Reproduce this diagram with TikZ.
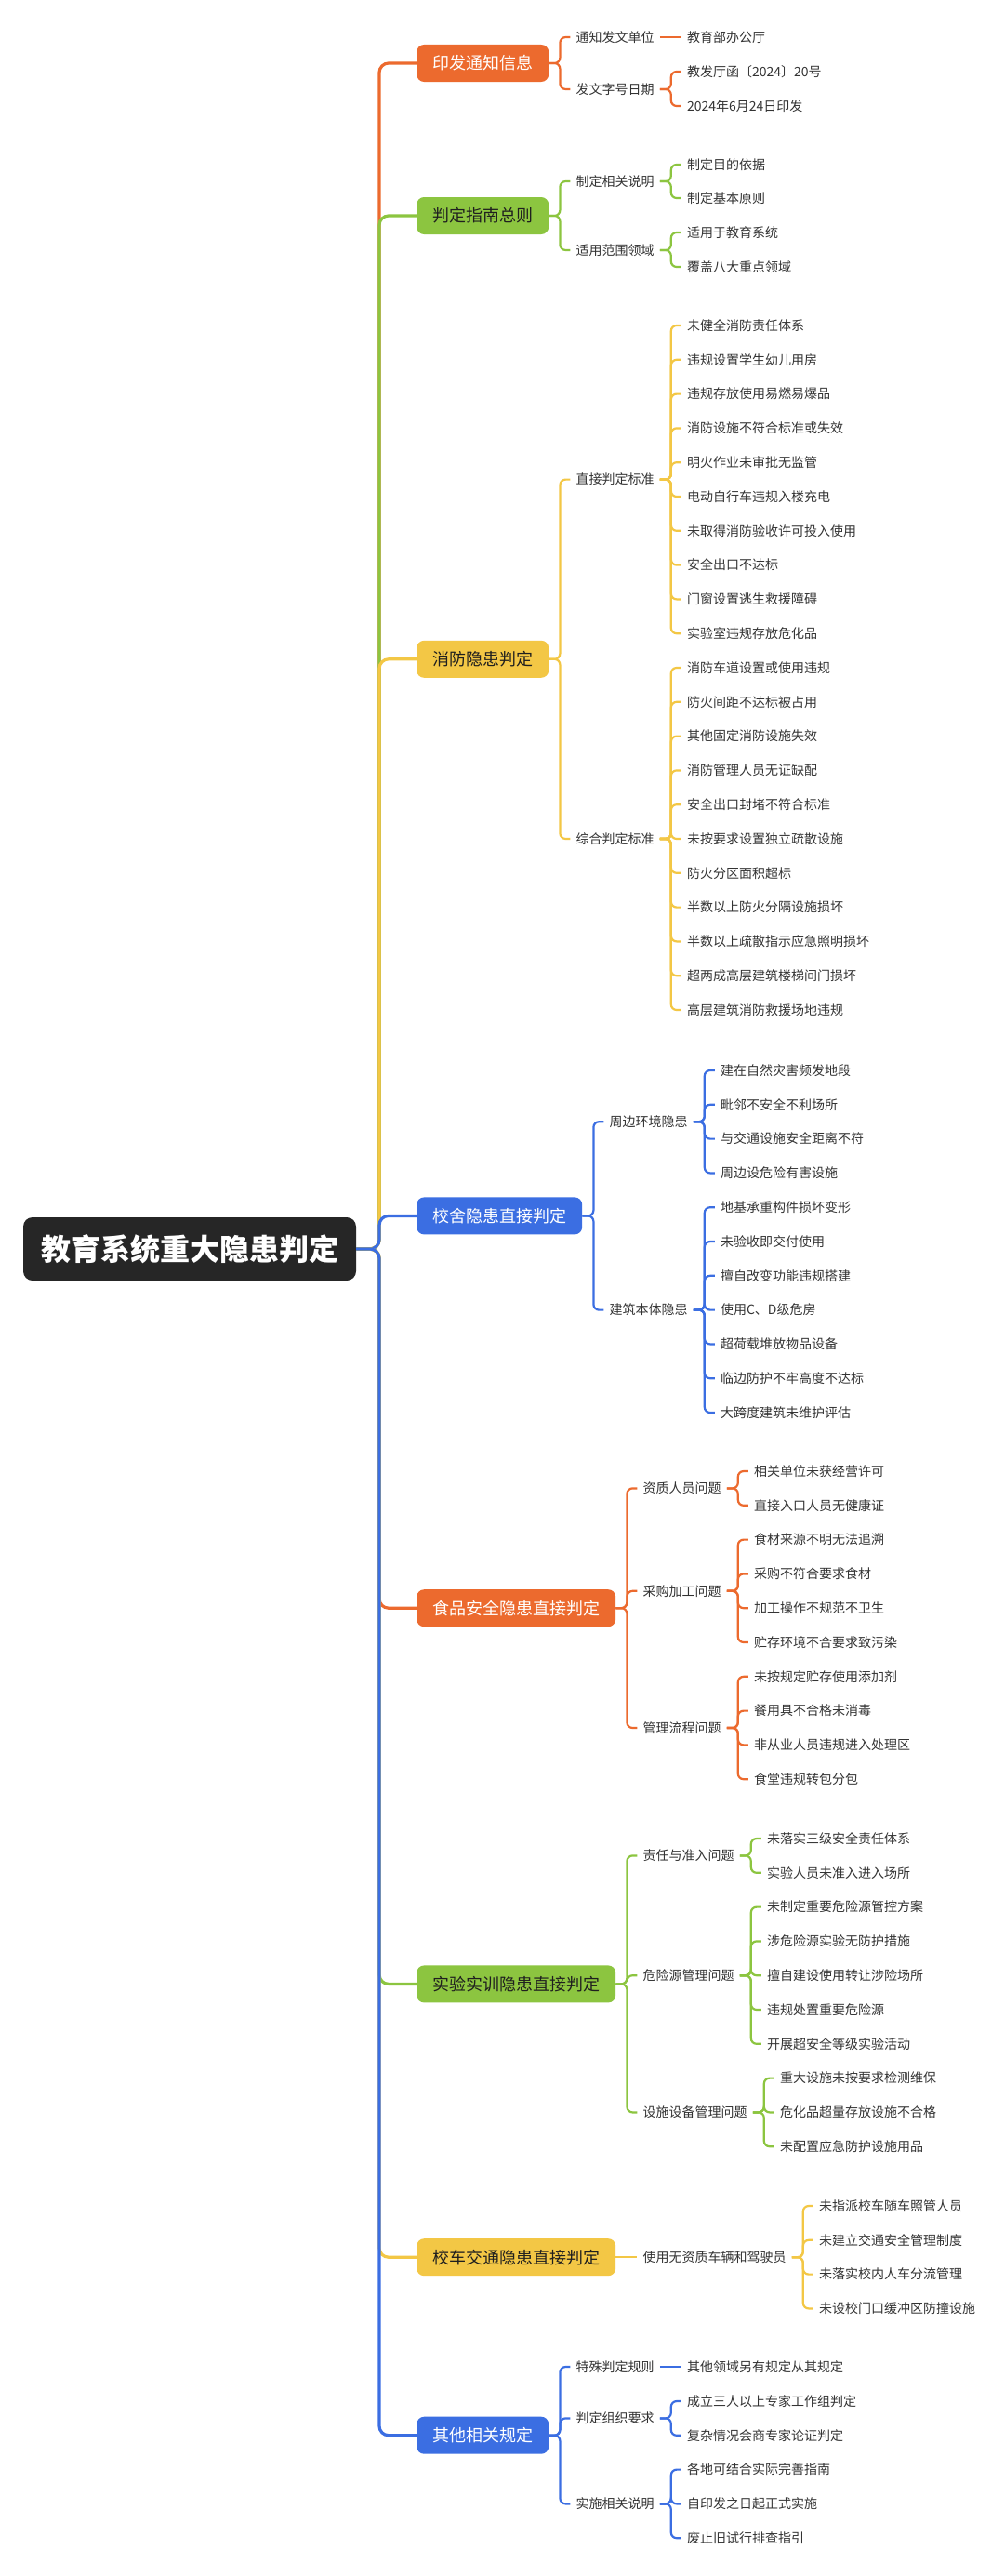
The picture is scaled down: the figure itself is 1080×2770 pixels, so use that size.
\documentclass[tikz,border=0pt]{standalone}
\usepackage{fontspec}
\setmainfont{Noto Sans CJK SC}
\usetikzlibrary{calc}
\definecolor{cOr}{HTML}{EC6A2E}
\definecolor{cGr}{HTML}{8CC540}
\definecolor{cYe}{HTML}{F3C745}
\definecolor{cBl}{HTML}{3B6EE2}
\definecolor{cRoot}{HTML}{262626}
\definecolor{cText}{HTML}{333333}
\definecolor{cDark}{HTML}{1F1F1F}
\tikzset{
  rootbox/.style={fill=cRoot, text=white, rounded corners=10pt, minimum width=358pt, minimum height=68pt,
    inner sep=0pt, font=\fontsize{32}{32}\selectfont\bfseries, text height=28pt, text depth=4pt},
  l1box/.style={anchor=west, rounded corners=8pt, minimum height=40pt, inner xsep=17pt, inner ysep=0pt,
    font=\fontsize{18}{18}\selectfont, text height=15.8pt, text depth=2.2pt},
  txt/.style={anchor=west, inner xsep=6pt, inner ysep=0pt, text=cText,
    font=\fontsize{14}{14}\selectfont, text height=12.3pt, text depth=1.7pt},
  trunk/.style={line width=3.2pt, rounded corners=10pt},
  conn/.style={line width=2.2pt, rounded corners=6pt},
}
% branch box: name, y, text, colour, text colour
\newcommand\branchbox[5]{%
  \node[l1box, fill=#4, text=#5] (#1) at (448,#2) {#3};
  \draw[trunk,#4] (root.east) -- (hub) |- (#1.west);
}
% child through a bracket: name, parent, y, text, colour
\newcommand\kid[5]{%
  \path (#2.east) ++(23,0) coordinate (#1-p);
  \node[txt] (#1) at (#1-p |- 0,#3) {#4};
  \draw[conn,#5] (#2.east) -- ++(12,0) |- (#1.west);
}
% single child on a straight line
\newcommand\kidline[5]{%
  \path (#2.east) ++(23,0) coordinate (#1-p);
  \node[txt] (#1) at (#1-p |- 0,#3) {#4};
  \draw[conn,#5] (#2.east) -- (#1.west);
}
\begin{document}
\begin{tikzpicture}[x=1pt,y=-1pt]
\fill[white] (0,0) rectangle (1080,2770);
\useasboundingbox (0,0) rectangle (1080,2770);

\node[rootbox] (root) at (204,1343) {教育系统重大隐患判定};
\coordinate (hub) at (408,1343);

% A
\branchbox{A}{68}{印发通知信息}{cOr}{white}
\kid{A1}{A}{40}{通知发文单位}{cOr}
\kidline{A1a}{A1}{40}{教育部办公厅}{cOr}
\kid{A2}{A}{96}{发文字号日期}{cOr}
\kid{A2a}{A2}{77}{教发厅函〔2024〕20号}{cOr}
\kid{A2b}{A2}{114}{2024年6月24日印发}{cOr}

% B
\branchbox{B}{232}{判定指南总则}{cGr}{cDark}
\kid{B1}{B}{195}{制定相关说明}{cGr}
\kid{B1a}{B1}{177}{制定目的依据}{cGr}
\kid{B1b}{B1}{213}{制定基本原则}{cGr}
\kid{B2}{B}{269}{适用范围领域}{cGr}
\kid{B2a}{B2}{250}{适用于教育系统}{cGr}
\kid{B2b}{B2}{287}{覆盖八大重点领域}{cGr}

% C
\branchbox{C}{708.8}{消防隐患判定}{cYe}{cDark}
\kid{C1}{C}{515.6}{直接判定标准}{cYe}
\kid{C1a}{C1}{350}{未健全消防责任体系}{cYe}
\kid{C1b}{C1}{386.8}{违规设置学生幼儿用房}{cYe}
\kid{C1c}{C1}{423.6}{违规存放使用易燃易爆品}{cYe}
\kid{C1d}{C1}{460.4}{消防设施不符合标准或失效}{cYe}
\kid{C1e}{C1}{497.2}{明火作业未审批无监管}{cYe}
\kid{C1f}{C1}{534}{电动自行车违规入楼充电}{cYe}
\kid{C1g}{C1}{570.8}{未取得消防验收许可投入使用}{cYe}
\kid{C1h}{C1}{607.6}{安全出口不达标}{cYe}
\kid{C1i}{C1}{644.4}{门窗设置逃生救援障碍}{cYe}
\kid{C1j}{C1}{681.2}{实验室违规存放危化品}{cYe}
\kid{C2}{C}{902}{综合判定标准}{cYe}
\kid{C2a}{C2}{718}{消防车道设置或使用违规}{cYe}
\kid{C2b}{C2}{754.8}{防火间距不达标被占用}{cYe}
\kid{C2c}{C2}{791.6}{其他固定消防设施失效}{cYe}
\kid{C2d}{C2}{828.4}{消防管理人员无证缺配}{cYe}
\kid{C2e}{C2}{865.2}{安全出口封堵不符合标准}{cYe}
\kid{C2f}{C2}{902}{未按要求设置独立疏散设施}{cYe}
\kid{C2g}{C2}{938.8}{防火分区面积超标}{cYe}
\kid{C2h}{C2}{975.6}{半数以上防火分隔设施损坏}{cYe}
\kid{C2i}{C2}{1012.4}{半数以上疏散指示应急照明损坏}{cYe}
\kid{C2j}{C2}{1049.2}{超两成高层建筑楼梯间门损坏}{cYe}
\kid{C2k}{C2}{1086}{高层建筑消防救援场地违规}{cYe}

% D
\branchbox{D}{1307.4}{校舍隐患直接判定}{cBl}{white}
\kid{D1}{D}{1206.2}{周边环境隐患}{cBl}
\kid{D1a}{D1}{1151}{建在自然灾害频发地段}{cBl}
\kid{D1b}{D1}{1187.8}{毗邻不安全不利场所}{cBl}
\kid{D1c}{D1}{1224.6}{与交通设施安全距离不符}{cBl}
\kid{D1d}{D1}{1261.4}{周边设危险有害设施}{cBl}
\kid{D2}{D}{1408.6}{建筑本体隐患}{cBl}
\kid{D2a}{D2}{1298.2}{地基承重构件损坏变形}{cBl}
\kid{D2b}{D2}{1335}{未验收即交付使用}{cBl}
\kid{D2c}{D2}{1371.8}{擅自改变功能违规搭建}{cBl}
\kid{D2d}{D2}{1408.6}{使用C、D级危房}{cBl}
\kid{D2e}{D2}{1445.4}{超荷载堆放物品设备}{cBl}
\kid{D2f}{D2}{1482.2}{临边防护不牢高度不达标}{cBl}
\kid{D2g}{D2}{1519}{大跨度建筑未维护评估}{cBl}

% E
\branchbox{E}{1729.2}{食品安全隐患直接判定}{cOr}{white}
\kid{E1}{E}{1600.4}{资质人员问题}{cOr}
\kid{E1a}{E1}{1582}{相关单位未获经营许可}{cOr}
\kid{E1b}{E1}{1618.8}{直接入口人员无健康证}{cOr}
\kid{E2}{E}{1710.8}{采购加工问题}{cOr}
\kid{E2a}{E2}{1655.6}{食材来源不明无法追溯}{cOr}
\kid{E2b}{E2}{1692.4}{采购不符合要求食材}{cOr}
\kid{E2c}{E2}{1729.2}{加工操作不规范不卫生}{cOr}
\kid{E2d}{E2}{1766}{贮存环境不合要求致污染}{cOr}
\kid{E3}{E}{1858}{管理流程问题}{cOr}
\kid{E3a}{E3}{1802.8}{未按规定贮存使用添加剂}{cOr}
\kid{E3b}{E3}{1839.6}{餐用具不合格未消毒}{cOr}
\kid{E3c}{E3}{1876.4}{非从业人员违规进入处理区}{cOr}
\kid{E3d}{E3}{1913.2}{食堂违规转包分包}{cOr}

% F
\branchbox{F}{2133.4}{实验实训隐患直接判定}{cGr}{cDark}
\kid{F1}{F}{1995.4}{责任与准入问题}{cGr}
\kid{F1a}{F1}{1977}{未落实三级安全责任体系}{cGr}
\kid{F1b}{F1}{2013.8}{实验人员未准入进入场所}{cGr}
\kid{F2}{F}{2124.2}{危险源管理问题}{cGr}
\kid{F2a}{F2}{2050.6}{未制定重要危险源管控方案}{cGr}
\kid{F2b}{F2}{2087.4}{涉危险源实验无防护措施}{cGr}
\kid{F2c}{F2}{2124.2}{擅自建设使用转让涉险场所}{cGr}
\kid{F2d}{F2}{2161}{违规处置重要危险源}{cGr}
\kid{F2e}{F2}{2197.8}{开展超安全等级实验活动}{cGr}
\kid{F3}{F}{2271.4}{设施设备管理问题}{cGr}
\kid{F3a}{F3}{2234.6}{重大设施未按要求检测维保}{cGr}
\kid{F3b}{F3}{2271.4}{危化品超量存放设施不合格}{cGr}
\kid{F3c}{F3}{2308.2}{未配置应急防护设施用品}{cGr}

% G
\branchbox{G}{2427.2}{校车交通隐患直接判定}{cYe}{cDark}
\kidline{G1}{G}{2427.2}{使用无资质车辆和驾驶员}{cYe}
\kid{G1a}{G1}{2372}{未指派校车随车照管人员}{cYe}
\kid{G1b}{G1}{2408.8}{未建立交通安全管理制度}{cYe}
\kid{G1c}{G1}{2445.6}{未落实校内人车分流管理}{cYe}
\kid{G1d}{G1}{2482.4}{未设校门口缓冲区防撞设施}{cYe}

% H
\branchbox{H}{2618.7}{其他相关规定}{cBl}{white}
\kid{H1}{H}{2545}{特殊判定规则}{cBl}
\kidline{H1a}{H1}{2545}{其他领域另有规定从其规定}{cBl}
\kid{H2}{H}{2600.4}{判定组织要求}{cBl}
\kid{H2a}{H2}{2582}{成立三人以上专家工作组判定}{cBl}
\kid{H2b}{H2}{2618.8}{复杂情况会商专家论证判定}{cBl}
\kid{H3}{H}{2692.4}{实施相关说明}{cBl}
\kid{H3a}{H3}{2655.6}{各地可结合实际完善指南}{cBl}
\kid{H3b}{H3}{2692.4}{自印发之日起正式实施}{cBl}
\kid{H3c}{H3}{2729.2}{废止旧试行排查指引}{cBl}
\end{tikzpicture}
\end{document}
